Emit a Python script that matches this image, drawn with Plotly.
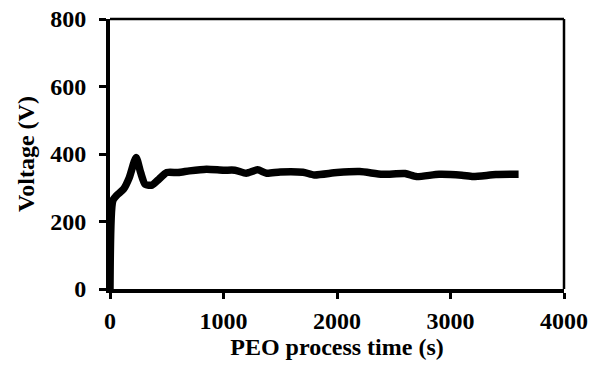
import plotly.graph_objects as go

time_s = [0, 25, 60, 120, 170, 230, 270, 310, 370, 430, 500, 600, 700, 850, 1000, 1100,
          1200, 1300, 1380, 1500, 1700, 1800, 2000, 2200, 2400, 2600, 2700, 2900, 3100,
          3200, 3400, 3600]
voltage_v = [0, 262, 278, 296, 330, 390, 345, 310, 308, 325, 345, 345, 350, 355, 352, 352,
             343, 353, 343, 347, 346, 338, 345, 348, 340, 342, 333, 340, 337, 333, 339, 340]

x_ticks = [0, 1000, 2000, 3000, 4000]
y_ticks = [0, 200, 400, 600, 800]

FS = 24
tfont = dict(family="Liberation Serif", size=FS, color="black", weight="bold")

fig = go.Figure()
fig.add_trace(go.Scatter(
    x=time_s, y=voltage_v, mode="lines",
    line=dict(color="black", width=7.5, shape="spline", smoothing=0.6),
    showlegend=False, hoverinfo="skip", cliponaxis=False,
))

fig.update_layout(
    width=590, height=365,
    margin=dict(l=110, r=26, t=19, b=76),
    paper_bgcolor="white", plot_bgcolor="white",
    font=dict(family="Liberation Serif", size=FS, color="black"),
    xaxis=dict(
        range=[0, 4000], tickvals=x_ticks, ticktext=[str(v) for v in x_ticks],
        showgrid=False, zeroline=False, automargin=False,
        showline=True, linecolor="black", linewidth=4,
        ticks="outside", ticklen=6, tickwidth=3, tickcolor="black",
        ticklabelstandoff=1, ticklabeloverflow="allow",
        tickfont=tfont,
        title=dict(text="<b>PEO process time (s)</b>", standoff=1,
                   font=dict(family="Liberation Serif", size=FS, color="black")),
    ),
    yaxis=dict(
        range=[0, 800], tickvals=y_ticks, ticktext=[str(v) for v in y_ticks],
        showgrid=False, zeroline=False, automargin=False,
        showline=True, linecolor="black", linewidth=4,
        ticks="outside", ticklen=7, tickwidth=3, tickcolor="black",
        ticklabelstandoff=8, ticklabeloverflow="allow",
        tickfont=tfont,
        title=dict(text="<b>Voltage (V)</b>", standoff=10,
                   font=dict(family="Liberation Serif", size=FS, color="black")),
    ),
    shapes=[
        dict(type="line", xref="x domain", yref="y domain", x0=0, x1=1, y0=1, y1=1,
             line=dict(color="black", width=2.5)),
        dict(type="line", xref="x domain", yref="y domain", x0=1, x1=1, y0=0, y1=1,
             line=dict(color="black", width=2.5)),
    ],
)

fig.write_html("out.html", config={"displayModeBar": False},
               post_script="document.body.style.margin='0';")
